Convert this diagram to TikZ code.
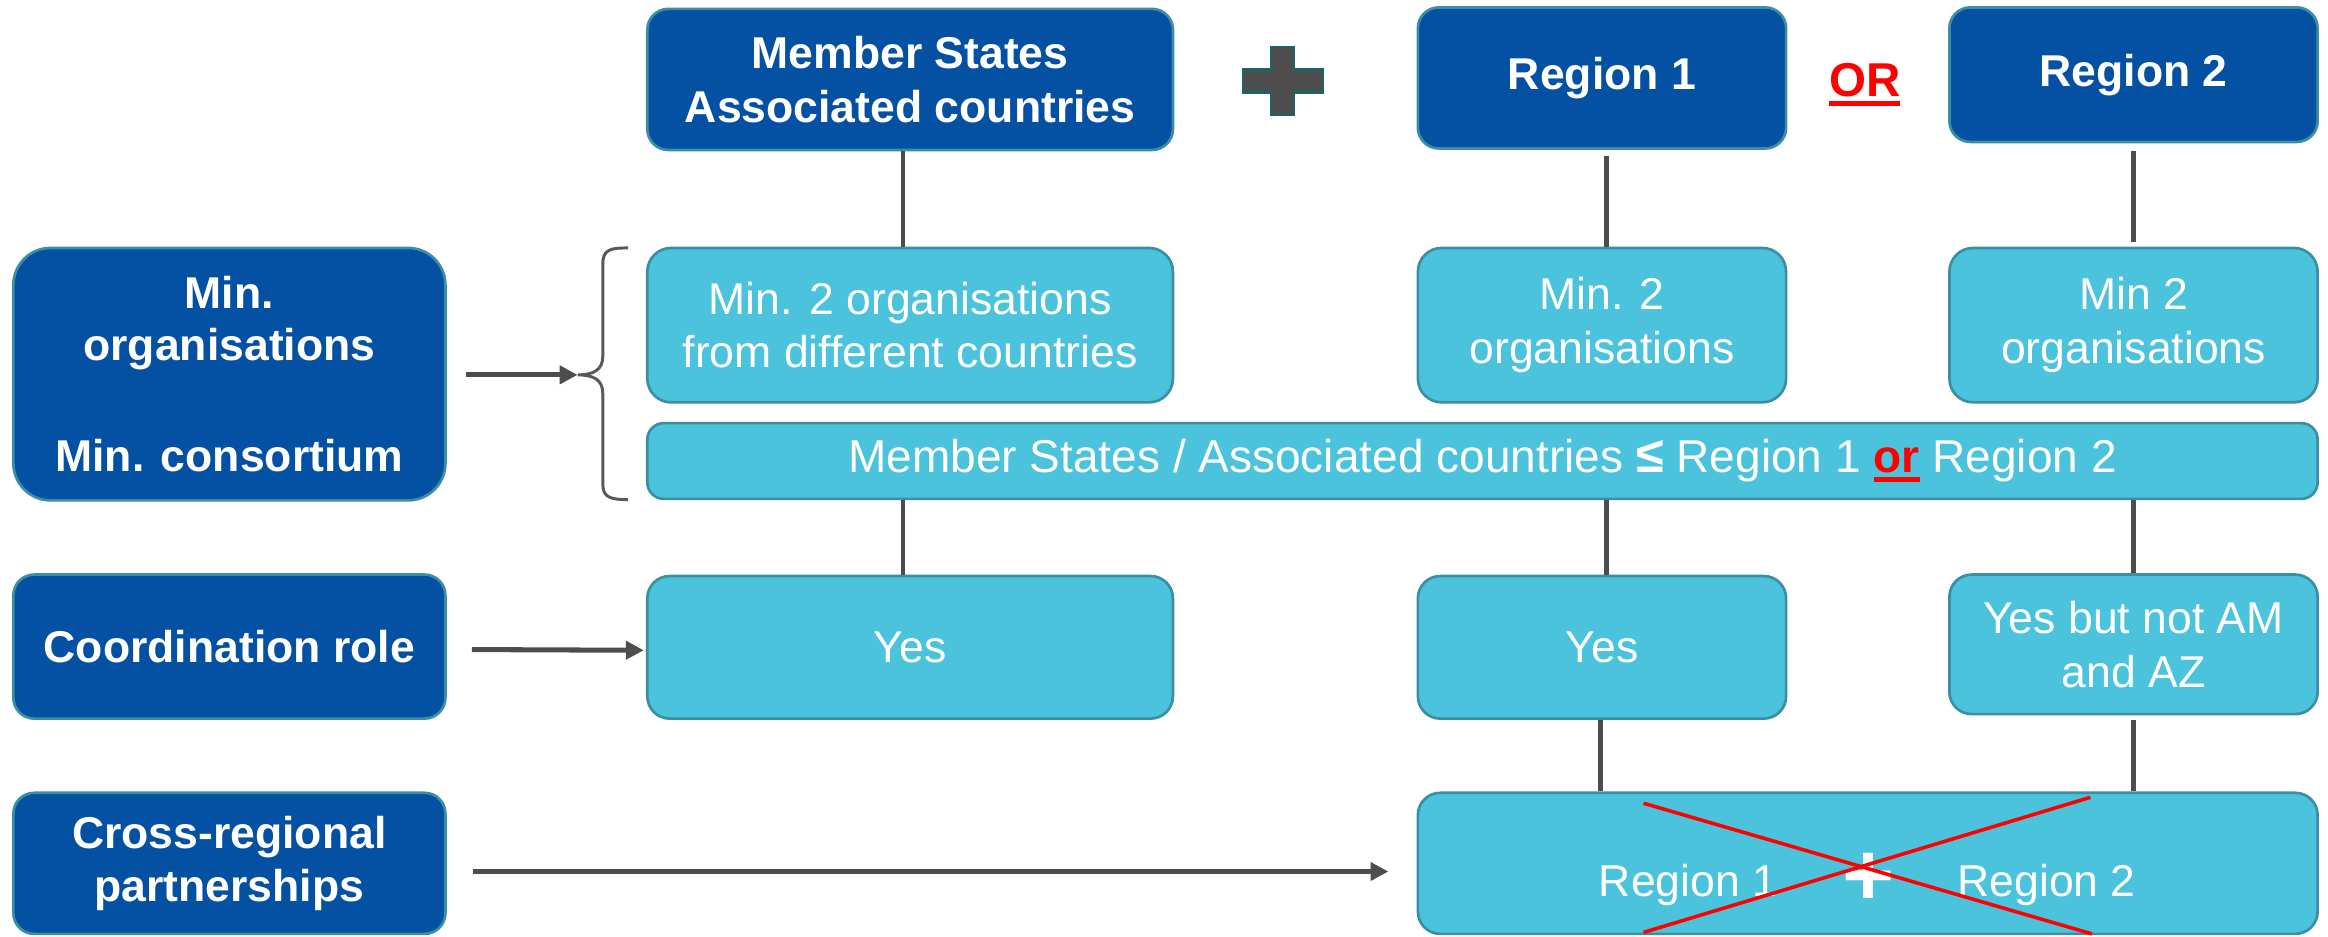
\documentclass[tikz,border=0pt]{standalone}
\usepackage{fontspec}
\setmainfont{Liberation Sans}
\usetikzlibrary{arrows.meta}
\definecolor{dblue}{HTML}{0450A2}
\definecolor{lblue}{HTML}{4BC3DD}
\definecolor{edgec}{HTML}{3A8FA3}
\definecolor{linec}{HTML}{4D4D4D}
\definecolor{bracec}{HTML}{595959}
\definecolor{plusfill}{HTML}{4D4D4D}
\definecolor{plusedge}{HTML}{1E6367}
\newcommand\redulOR[1]{\sbox0{#1}\rlap{\color{red}\rule[-6.7pt]{\wd0}{3.7pt}}\usebox0}
\newcommand\redulor[1]{\sbox0{#1}\rlap{\color{red}\rule[-6pt]{\wd0}{3.5pt}}\usebox0}
\begin{document}
\begin{tikzpicture}[x=1pt,y=-1pt,
  darkbox/.style={draw=edgec, line width=1.8pt, fill=dblue, rounded corners=14pt, text=white,
    font=\fontsize{30}{36}\selectfont\bfseries, align=center, inner sep=0pt},
  lightbox/.style={draw=edgec, line width=1.8pt, fill=lblue, rounded corners=15pt, text=white,
    font=\fontsize{30}{36}\selectfont, align=center, inner sep=0pt},
  plaintext/.style={text=white, font=\fontsize{30}{36}\selectfont, inner sep=0pt},
  conn/.style={draw=linec, line width=2.8pt},
  arr/.style={draw=linec, line width=3.4pt, -{Triangle[length=12pt,width=12pt]}},
  cross/.style={draw=red, line width=2.4pt},
]
\useasboundingbox (0,0) rectangle (1568,630.5);

% top row
\node[darkbox, minimum width=354pt, minimum height=95pt] (ms) at (613,53.5) {Member States\\Associated countries};
\node[darkbox, minimum width=248pt, minimum height=95pt] (r1) at (1079,52.5) {Region 1};
\node[darkbox, minimum width=248pt, minimum height=90.6pt] (r2) at (1437,50.3) {Region 2};
\begin{scope}[shift={(864,54.5)}]
  \draw[draw=plusedge, fill=plusfill, line width=1.6pt]
    (-7.75,-23) -- (7.75,-23) -- (7.75,-7.75) -- (27,-7.75) -- (27,7.75) -- (7.75,7.75)
    -- (7.75,23) -- (-7.75,23) -- (-7.75,7.75) -- (-27,7.75) -- (-27,-7.75) -- (-7.75,-7.75) -- cycle;
\end{scope}
\node[text=red, font=\fontsize{32}{36}\selectfont\bfseries, anchor=base, inner sep=0pt] (or) at (1256,65) {\redulOR{OR}};

% left column
\node[darkbox, rounded corners=25pt, minimum width=291pt, minimum height=170pt,
  font=\fontsize{30}{35}\selectfont\bfseries] (minorg) at (154.5,252) {Min.\\organisations\\[40pt]Min. consortium};
\node[darkbox, minimum width=291pt, minimum height=97pt] (coord) at (154.5,435.5) {Coordination role};
\node[darkbox, minimum width=291pt, minimum height=95pt] (crossreg) at (154.5,581.5) {Cross-regional\\partnerships};

% second row
\node[lightbox, rounded corners=16pt, minimum width=354pt, minimum height=104pt] (l1) at (613,219) {Min. 2 organisations\\from different countries};
\node[lightbox, rounded corners=16pt, minimum width=248pt, minimum height=104pt] (l2) at (1079,219) {Min. 2\\organisations};
\node[lightbox, rounded corners=16pt, minimum width=248pt, minimum height=104pt] (l3) at (1437,219) {Min 2\\organisations};
\node[lightbox, rounded corners=11pt, minimum width=1125pt, minimum height=51pt,
  font=\fontsize{31}{36}\selectfont] (wide) at (998.5,310.5)
  {Member States / Associated countries {\bfseries\fontsize{34}{36}\selectfont ≤} Region 1 {\color{red}\bfseries\redulor{or}} Region 2};

% third row
\node[lightbox, minimum width=354pt, minimum height=96pt] (y1) at (613,436) {Yes};
\node[lightbox, minimum width=248pt, minimum height=96pt] (y2) at (1079,436) {Yes};
\node[lightbox, minimum width=248pt, minimum height=94pt] (y3) at (1437,434) {Yes but not AM\\and AZ};

% bottom row
\node[lightbox, minimum width=606pt, minimum height=95pt] (bot) at (1258,581.5) {};
\node[plaintext, anchor=base] (tr1) at (1137,604) {Region 1};
\node[plaintext, anchor=base, font=\fontsize{60}{60}\selectfont\bfseries] (tplus) at (1258.5,610) {+};
\node[plaintext, anchor=base] (tr2) at (1378.5,604) {Region 2};
\draw[cross] (1107,541) -- (1409,629);
\draw[cross] (1107,628) -- (1408,537);

% connectors
\draw[conn] ([xshift=-5pt]ms.south) -- ([xshift=-5pt]l1.north);
\draw[conn] ([xshift=3pt,yshift=-4pt]r1.south) -- ([xshift=3pt]l2.north);
\draw[conn] ([yshift=-5pt]r2.south) -- ([yshift=3pt]l3.north);
\draw[conn] ([xshift=-5pt]y1.north |- wide.south) -- ([xshift=-5pt]y1.north);
\draw[conn] ([xshift=3pt]y2.north |- wide.south) -- ([xshift=3pt]y2.north);
\draw[conn] (y3.north |- wide.south) -- (y3.north);
\draw[conn] ([xshift=-1pt]y2.south) -- ([xshift=-1pt]y2.south |- bot.north);
\draw[conn] ([yshift=-3pt]y3.south) -- (y3.south |- bot.north);

% brace and arrows
\coordinate (bracetip) at (389,252.5);
\draw[bracec, line width=2pt] (423,167) .. controls (411,167) and (406,168) .. (406,178)
  -- (406,240) .. controls (406,249) and (400,252.5) .. (bracetip)
  .. controls (400,252.5) and (406,256) .. (406,265)
  -- (406,326) .. controls (406,335) and (411,336.5) .. (423,336.5);
\draw[arr] ([xshift=13pt]minorg.east |- bracetip) -- (bracetip);
\draw[arr] ([xshift=17pt,yshift=-2pt]coord.east) -- ([xshift=-1.5pt,yshift=-2pt]y1.west);
\draw[arr] ([xshift=18pt,yshift=-5.5pt]crossreg.east) -- ([xshift=-19pt,yshift=-5.5pt]bot.west);
\end{tikzpicture}
\end{document}
